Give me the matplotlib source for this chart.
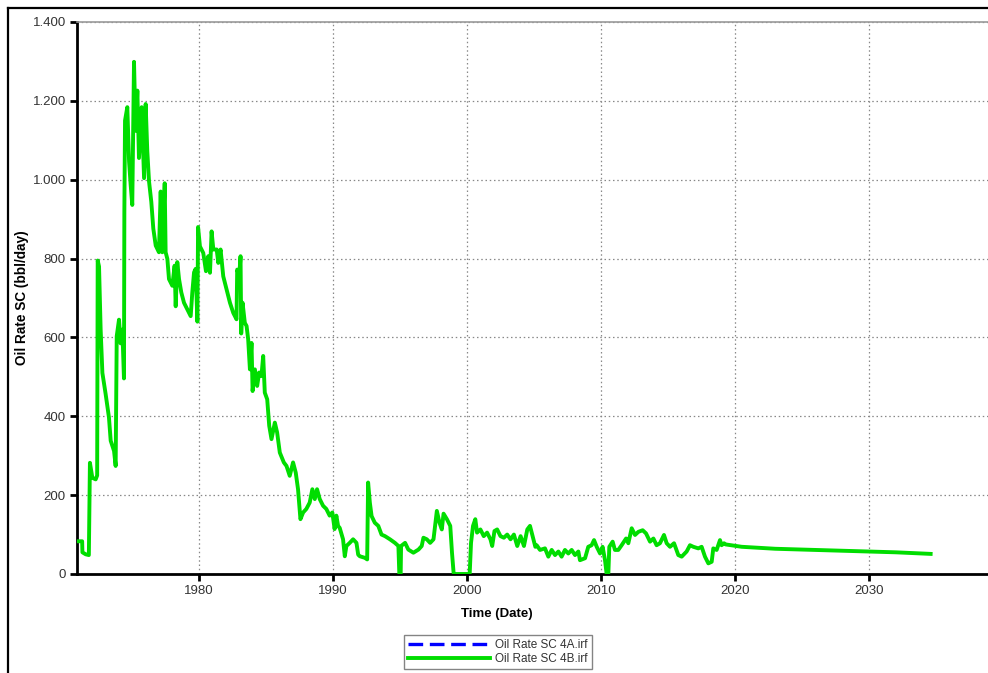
"""Oil rate SC history + forecast, cases 4A and 4B (4A sits under 4B)."""

import matplotlib

matplotlib.use("Agg")
import matplotlib.pyplot as plt
from matplotlib.lines import Line2D
from matplotlib.ticker import FuncFormatter, MultipleLocator

plt.rcParams["font.family"] = ["Liberation Sans", "DejaVu Sans"]

# values (decimal years, bbl/day)
years_4b = [
    1970.92, 1971.28, 1971.30, 1971.54, 1971.78, 1971.86, 1972.04, 1972.29,
    1972.40, 1972.44, 1972.54, 1972.66, 1972.79, 1973.03, 1973.28, 1973.41,
    1973.66, 1973.78, 1973.86, 1974.03, 1974.15, 1974.28, 1974.40, 1974.43,
    1974.48, 1974.65, 1974.78, 1974.90, 1975.02, 1975.15, 1975.27, 1975.40,
    1975.52, 1975.72, 1975.90, 1976.02, 1976.14, 1976.27, 1976.44, 1976.59,
    1976.77, 1977.01, 1977.14, 1977.26, 1977.44, 1977.51, 1977.64, 1977.76,
    1978.01, 1978.18, 1978.26, 1978.38, 1978.51, 1978.68, 1978.88, 1979.13,
    1979.38, 1979.50, 1979.63, 1979.75, 1979.88, 1979.93, 1980.07, 1980.32,
    1980.52, 1980.69, 1980.82, 1980.94, 1981.07, 1981.32, 1981.44, 1981.61,
    1981.81, 1982.06, 1982.31, 1982.56, 1982.80, 1982.85, 1983.00, 1983.10,
    1983.15, 1983.25, 1983.42, 1983.55, 1983.67, 1983.80, 1983.92, 1984.00,
    1984.17, 1984.34, 1984.49, 1984.66, 1984.79, 1984.91, 1985.09, 1985.24,
    1985.41, 1985.66, 1985.83, 1986.03, 1986.33, 1986.53, 1986.77, 1987.02,
    1987.22, 1987.39, 1987.57, 1987.77, 1988.01, 1988.26, 1988.46, 1988.64,
    1988.81, 1989.01, 1989.26, 1989.50, 1989.75, 1989.95, 1990.12, 1990.25,
    1990.38, 1990.50, 1990.75, 1990.88, 1991.00, 1991.25, 1991.50, 1991.75,
    1991.88, 1992.00, 1992.38, 1992.55, 1992.62, 1992.75, 1992.88, 1993.12,
    1993.38, 1993.62, 1993.88, 1994.25, 1994.62, 1994.88, 1994.95, 1995.05,
    1995.08, 1995.38, 1995.62, 1996.00, 1996.38, 1996.62, 1996.75, 1997.00,
    1997.25, 1997.50, 1997.75, 1997.95, 1998.12, 1998.25, 1998.50, 1998.75,
    1998.88, 1999.00, 1999.05, 2000.20, 2000.30, 2000.45, 2000.62, 2000.75,
    2001.00, 2001.25, 2001.50, 2001.75, 2001.88, 2002.05, 2002.25, 2002.50,
    2002.75, 2003.00, 2003.25, 2003.50, 2003.75, 2004.00, 2004.25, 2004.50,
    2004.70, 2004.90, 2005.10, 2005.20, 2005.45, 2005.82, 2006.07, 2006.32,
    2006.57, 2006.82, 2007.06, 2007.31, 2007.56, 2007.81, 2008.06, 2008.31,
    2008.43, 2008.81, 2009.05, 2009.30, 2009.48, 2009.68, 2009.93, 2010.12,
    2010.30, 2010.42, 2010.55, 2010.62, 2010.87, 2011.04, 2011.29, 2011.54,
    2011.87, 2012.04, 2012.29, 2012.54, 2012.79, 2013.11, 2013.36, 2013.66,
    2013.91, 2014.15, 2014.40, 2014.70, 2014.90, 2015.15, 2015.45, 2015.77,
    2016.02, 2016.39, 2016.64, 2016.89, 2017.26, 2017.51, 2017.76, 2018.01,
    2018.26, 2018.38, 2018.63, 2018.88, 2019.00, 2019.18, 2019.30, 2020.50,
    2023.00, 2026.00, 2029.00, 2032.00, 2034.60,
]
rate_4b = [
    83, 83, 55, 50, 48, 282, 244, 240,
    250, 795, 780, 620, 510, 457, 397, 338,
    312, 274, 603, 645, 585, 620, 496, 919,
    1150, 1184, 1047, 987, 936, 1299, 1124, 1226,
    1055, 1184, 1004, 1192, 1073, 996, 944, 876,
    833, 816, 970, 816, 991, 816, 799, 748,
    731, 782, 679, 791, 748, 714, 688, 671,
    654, 714, 765, 774, 640, 880, 831, 814,
    768, 806, 764, 869, 823, 823, 789, 823,
    755, 722, 688, 662, 646, 772, 755, 806,
    610, 688, 637, 629, 595, 519, 586, 464,
    519, 477, 511, 502, 553, 460, 443, 376,
    342, 384, 359, 308, 283, 274, 249, 283,
    257, 215, 139, 156, 165, 181, 215, 190,
    215, 190, 173, 165, 148, 156, 114, 148,
    122, 117, 88, 45, 71, 79, 88, 79,
    49, 45, 41, 37, 232, 181, 147, 130,
    122, 100, 96, 88, 79, 71, 0, 0,
    71, 79, 62, 54, 62, 71, 92, 88,
    79, 88, 160, 130, 113, 153, 139, 122,
    54, 3, 0, 0, 79, 122, 139, 105,
    113, 96, 105, 88, 71, 109, 113, 96,
    92, 100, 88, 100, 71, 96, 71, 113,
    122, 95, 69, 73, 61, 65, 44, 61,
    48, 57, 44, 61, 52, 61, 48, 57,
    35, 40, 69, 73, 86, 69, 52, 69,
    35, 0, 2, 69, 82, 61, 61, 73,
    90, 78, 116, 99, 107, 111, 103, 82,
    90, 73, 78, 99, 78, 69, 78, 48,
    44, 57, 73, 69, 65, 69, 44, 27,
    31, 65, 61, 86, 73, 78, 75, 69,
    64, 61, 58, 55, 51,
]
# case 4A is not visible in the picture: it lies under 4B
years_4a = years_4b
rate_4a = rate_4b

labels = ["Oil Rate SC 4A.irf", "Oil Rate SC 4B.irf"]
x_ticks = [1980, 1990, 2000, 2010, 2020, 2030]

W, H = 988, 673
fig = plt.figure(figsize=(W / 100, H / 100), dpi=100)

# outer frame of the exported page (cropped on right and bottom)
fig.add_artist(Line2D([8 / W, 8 / W], [0, 1 - 8 / H], color="black", lw=1.6))
fig.add_artist(Line2D([8 / W, 1], [1 - 8 / H, 1 - 8 / H], color="black", lw=1.6))

ax_l, ax_r, ax_t, ax_b = 77, 1000, 22, 574
ax = fig.add_axes([ax_l / W, 1 - ax_b / H, (ax_r - ax_l) / W, (ax_b - ax_t) / H])

px_per_year = 13.4
xmin = 1980 - (199 - ax_l) / px_per_year
xmax = 2030 + (ax_r - 869) / px_per_year

(l4a,) = ax.plot(years_4a, rate_4a, color="#0000ff", lw=1.4,
                 dashes=(6.5, 3.2), zorder=2)
(l4b,) = ax.plot(years_4b, rate_4b, color="#00dd00", lw=2.8, zorder=3)

ax.set_xlim(xmin, xmax)
ax.set_ylim(0, 1400)
ax.set_xticks(x_ticks)
ax.yaxis.set_major_locator(MultipleLocator(200))
ax.yaxis.set_major_formatter(
    FuncFormatter(lambda v, _: f"{int(v):,}".replace(",", "."))
)
ax.grid(True, color="#888888", linestyle=(0, (1.2, 2.2)), linewidth=0.9)
ax.set_axisbelow(True)

for side in ("left", "bottom"):
    ax.spines[side].set_linewidth(2.0)
    ax.spines[side].set_color("black")
ax.spines["top"].set_color("#999999")
ax.spines["top"].set_linewidth(1.2)
ax.spines["right"].set_visible(False)
ax.tick_params(direction="out", length=5, width=2, color="black",
               labelsize=9.5, labelcolor="#333333", pad=3)

fig.text(497 / W, 1 - 614 / H, "Time (Date)", ha="center", va="center",
         fontsize=9.5, fontweight="bold")
fig.text(22 / W, 1 - 298 / H, "Oil Rate SC (bbl/day)", ha="center",
         va="center", rotation=90, fontsize=9.8, fontweight="bold")

leg = fig.legend(
    [l4a, l4b], labels,
    loc="center", bbox_to_anchor=(498 / W, 1 - 652 / H),
    fontsize=8.5, frameon=True, fancybox=False, handlelength=6.9,
    handletextpad=0.5, borderpad=0.35, labelspacing=0.15,
    borderaxespad=0,
)
leg.get_frame().set_edgecolor("#666666")
leg.get_frame().set_linewidth(1.0)
for t in leg.get_texts():
    t.set_color("#333333")
leg.get_lines()[0].set_linewidth(2.4)
leg.get_lines()[0].set_dashes((4.4, 2.0))

fig.savefig("out.png", dpi=100)
